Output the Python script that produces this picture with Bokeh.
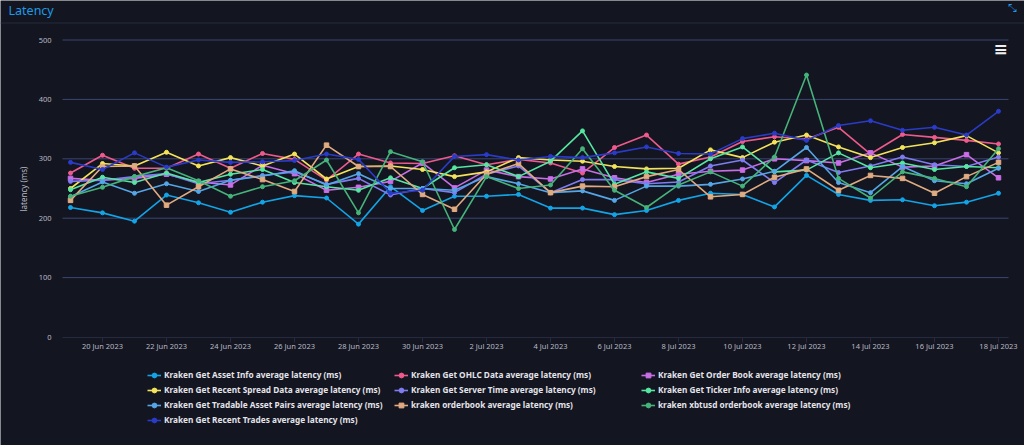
from bokeh.plotting import figure
from bokeh.models import Range1d, FixedTicker, Legend, LegendItem, Label, Span
from bokeh.embed import file_html
from bokeh.resources import INLINE

dates = ["19 Jun 2023", "20 Jun 2023", "21 Jun 2023", "22 Jun 2023", "23 Jun 2023",
         "24 Jun 2023", "25 Jun 2023", "26 Jun 2023", "27 Jun 2023", "28 Jun 2023",
         "29 Jun 2023", "30 Jun 2023", "1 Jul 2023", "2 Jul 2023", "3 Jul 2023",
         "4 Jul 2023", "5 Jul 2023", "6 Jul 2023", "7 Jul 2023", "8 Jul 2023",
         "9 Jul 2023", "10 Jul 2023", "11 Jul 2023", "12 Jul 2023", "13 Jul 2023",
         "14 Jul 2023", "15 Jul 2023", "16 Jul 2023", "17 Jul 2023", "18 Jul 2023"]

tick_labels = ["20 Jun 2023", "22 Jun 2023", "24 Jun 2023", "26 Jun 2023", "28 Jun 2023",
               "30 Jun 2023", "2 Jul 2023", "4 Jul 2023", "6 Jul 2023", "8 Jul 2023",
               "10 Jul 2023", "12 Jul 2023", "14 Jul 2023", "16 Jul 2023", "18 Jul 2023"]
y_ticks = [0, 100, 200, 300, 400, 500]

asset_info = [218, 209, 195, 239, 226, 210, 227, 238, 234, 190, 253, 213, 237, 237, 240,
              217, 217, 206, 213, 230, 242, 240, 219, 272, 240, 230, 231, 221, 227, 242]
ohlc = [276, 306, 284, 284, 308, 284, 309, 299, 264, 308, 293, 292, 305, 290, 299,
        293, 276, 319, 340, 291, 303, 329, 337, 333, 353, 308, 341, 336, 331, 325]
order_book = [267, 264, 267, 274, 261, 256, 289, 275, 247, 252, 262, 293, 251, 281, 270,
              266, 283, 268, 260, 274, 279, 281, 300, 297, 293, 310, 286, 288, 307, 268]
recent_spread = [250, 292, 288, 311, 288, 302, 288, 308, 266, 287, 288, 282, 270, 278, 302,
                 298, 296, 287, 283, 284, 315, 302, 328, 340, 320, 302, 319, 327, 339, 310]
server_time = [262, 264, 270, 275, 258, 264, 272, 278, 257, 267, 239, 250, 243, 274, 288,
               243, 265, 265, 258, 261, 288, 298, 260, 298, 277, 288, 303, 290, 287, 303]
ticker_info = [248, 269, 260, 276, 260, 274, 282, 260, 253, 247, 268, 250, 285, 290, 270,
               296, 347, 257, 278, 267, 300, 320, 278, 281, 310, 285, 293, 282, 287, 285]
tradable_pairs = [236, 261, 242, 258, 245, 264, 271, 280, 256, 275, 250, 250, 247, 270, 258,
                  243, 246, 230, 254, 254, 257, 266, 279, 319, 260, 243, 287, 263, 258, 284]
kraken_orderbook = [230, 287, 288, 222, 253, 283, 265, 245, 323, 287, 287, 240, 215, 274, 292,
                    243, 254, 253, 270, 282, 236, 240, 269, 283, 247, 272, 267, 242, 270, 294]
xbtusd_orderbook = [237, 252, 270, 285, 263, 237, 253, 263, 298, 209, 312, 295, 181, 270, 250,
                    256, 317, 247, 218, 256, 278, 254, 303, 441, 267, 234, 278, 267, 253, 317]
recent_trades = [294, 282, 310, 286, 298, 294, 295, 297, 308, 299, 242, 247, 304, 307, 298,
                 304, 302, 310, 320, 309, 308, 334, 343, 331, 356, 364, 348, 353, 340, 380]

series_names = [
    "Kraken Get Asset Info average latency (ms)",
    "Kraken Get OHLC Data average latency (ms)",
    "Kraken Get Order Book average latency (ms)",
    "Kraken Get Recent Spread Data average latency (ms)",
    "Kraken Get Server Time average latency (ms)",
    "Kraken Get Ticker Info average latency (ms)",
    "Kraken Get Tradable Asset Pairs average latency (ms)",
    "kraken orderbook average latency (ms)",
    "kraken xbtusd orderbook average latency (ms)",
    "Kraken Get Recent Trades average latency (ms)",
]
series_values = [asset_info, ohlc, order_book, recent_spread, server_time,
                 ticker_info, tradable_pairs, kraken_orderbook, xbtusd_orderbook, recent_trades]
series_colors = ["#12a4e6", "#ee5a8c", "#c86ee6", "#f4e35a", "#7f7cf2",
                 "#55e6a2", "#55a6e6", "#e0ab80", "#45b37a", "#2a3bc8"]
series_markers = ["circle", "circle", "square", "circle", "circle",
                  "circle", "circle", "square", "circle", "circle"]
legend_columns = [[0, 3, 6, 9], [1, 4, 7], [2, 5, 8]]

BG = "#131520"
FONT = "Noto Sans"
W, H = 1024, 445

# plot-area geometry (pixels) used to set the ranges of a full-canvas frame
PX_LEFT, PX_RIGHT = 62, 1008
PX_FIRST, PX_PER_DAY = 70, 32
PX_Y0, PX_PER_UNIT = 336.5, 0.594

x_start = -PX_FIRST / PX_PER_DAY
x_end = x_start + W / PX_PER_DAY
y_end = PX_Y0 / PX_PER_UNIT
y_start = -(H - PX_Y0) / PX_PER_UNIT
area_x = ((PX_LEFT - PX_FIRST) / PX_PER_DAY, (PX_RIGHT - PX_FIRST) / PX_PER_DAY)

p = figure(width=W, height=H, output_backend="svg", toolbar_location=None,
           x_range=Range1d(x_start, x_end), y_range=Range1d(y_start, y_end),
           min_border=0, min_border_left=0, min_border_right=0,
           min_border_top=0, min_border_bottom=0)
p.background_fill_color = BG
p.border_fill_color = BG
p.outline_line_color = None
p.xgrid.visible = False
p.ygrid.visible = False

# horizontal grid lines across the plot area only
grid_vals = [t for t in y_ticks if t > 0]
p.segment(x0=[area_x[0]] * len(grid_vals), x1=[area_x[1]] * len(grid_vals),
          y0=grid_vals, y1=grid_vals, line_color="#3b4774", line_width=1)

xa = p.xaxis[0]
xa.fixed_location = 0
xa.bounds = area_x
xa.ticker = FixedTicker(ticks=[dates.index(t) for t in tick_labels])
xa.major_label_overrides = {dates.index(t): t for t in tick_labels}
xa.axis_line_color = "#262a3e"
xa.major_tick_line_color = "#262a3e"
xa.major_tick_in = 0
xa.major_tick_out = 5
xa.minor_tick_line_color = None
xa.major_label_standoff = -1
xa.major_label_text_color = "#b9bac4"
xa.major_label_text_font = FONT
xa.major_label_text_font_size = "7.5px"

ya = p.yaxis[0]
ya.fixed_location = area_x[0]
ya.bounds = (y_ticks[0], y_ticks[-1])
ya.ticker = FixedTicker(ticks=y_ticks)
ya.axis_line_color = None
ya.major_tick_line_color = None
ya.minor_tick_line_color = None
ya.major_label_standoff = 5
ya.major_label_text_color = "#b9bac4"
ya.major_label_text_font = FONT
ya.major_label_text_font_size = "7.5px"
ya.axis_label = "latency (ms)"
ya.axis_label_text_font = FONT
ya.axis_label_text_font_size = "8px"
ya.axis_label_text_font_style = "normal"
ya.axis_label_text_color = "#b9bac4"
ya.axis_label_standoff = 7

x = list(range(len(dates)))
items = []
for name, vals, col, mk in zip(series_names, series_values, series_colors, series_markers):
    lr = p.line(x, vals, line_color=col, line_width=1.6)
    sr = p.scatter(x, vals, marker=mk, size=4 if mk == "circle" else 4.5,
                   fill_color=col, line_color=col)
    items.append(LegendItem(label=name, renderers=[lr, sr]))

# legend: three columns below the plot area
col_x = [147, 394, 641]
ROW_H, ROW_GAP, TOP = 12, 3, 368.5
for cidx, cx in zip(legend_columns, col_x):
    n = len(cidx)
    h = n * ROW_H + (n - 1) * ROW_GAP
    leg = Legend(items=[items[i] for i in cidx], location=(cx, H - (TOP + h)),
                 orientation="vertical", background_fill_alpha=0, border_line_color=None,
                 padding=0, margin=0, spacing=ROW_GAP, label_height=ROW_H, glyph_height=ROW_H,
                 glyph_width=14, label_standoff=3,
                 label_text_font=FONT, label_text_font_size="8.25px",
                 label_text_font_style="bold", label_text_color="#e4e4ea")
    p.add_layout(leg, "center")

# header: title, separator line, icons
p.add_layout(Span(location=H - 22.5, location_units="screen", dimension="width",
                  line_color="#262a3c", line_width=1))
p.add_layout(Label(x=8, y=H - 9.5, x_units="screen", y_units="screen",
                   text="Latency", text_baseline="middle", text_align="left",
                   text_color="#1e9be6", text_font=FONT, text_font_size="12.5px"))
p.add_layout(Label(x=1012, y=H - 8, x_units="screen", y_units="screen",
                   text="⤡", text_baseline="middle", text_align="center",
                   text_color="#1e9be6", text_font="DejaVu Sans", text_font_size="11px"))
p.add_layout(Label(x=1000, y=H - 48, x_units="screen", y_units="screen",
                   text="≡", text_baseline="middle", text_align="center",
                   text_color="#f0f0f0", text_font="DejaVu Sans", text_font_size="17px",
                   text_font_style="bold"))

open("out.html", "w").write(file_html(p, INLINE))
